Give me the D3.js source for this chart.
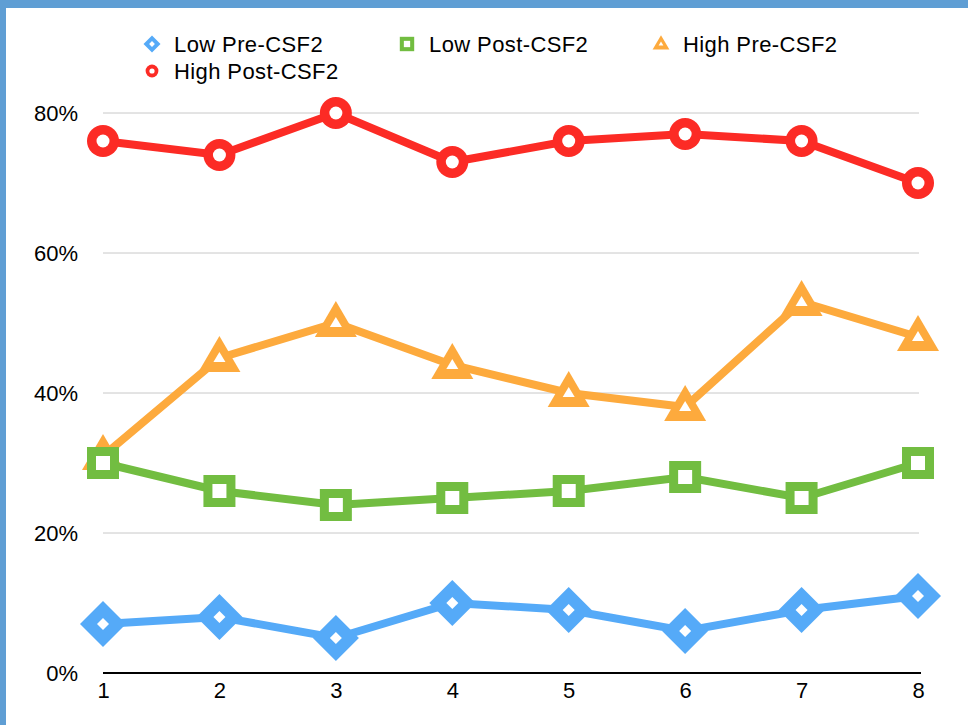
<!DOCTYPE html>
<html><head><meta charset="utf-8">
<script src="https://cdn.jsdelivr.net/npm/d3@7"></script>
<style>
html,body{margin:0;padding:0;background:#fff;}
svg{display:block;font-family:"Liberation Sans",Arial,Helvetica,sans-serif;}
</style></head>
<body>
<script>
const categories = [1,2,3,4,5,6,7,8];
const lowPre   = [7, 8, 5, 10, 9, 6, 9, 11];
const lowPost  = [30, 26, 24, 25, 26, 28, 25, 30];
const highPre  = [31, 45, 50, 44, 40, 38, 53, 48];
const highPost = [76, 74, 80, 73, 76, 77, 76, 70];
const yTicks = [0, 20, 40, 60, 80];
const seriesNames = ["Low Pre-CSF2","Low Post-CSF2","High Pre-CSF2","High Post-CSF2"];

const W = 968, H = 725;
const svg = d3.select("body").append("svg").attr("width", W).attr("height", H);

// frame
svg.append("rect").attr("x",0).attr("y",0).attr("width",W).attr("height",H).attr("fill","#fff");
svg.append("rect").attr("x",0).attr("y",0).attr("width",W).attr("height",8).attr("fill","#5f9ed4");
svg.append("rect").attr("x",0).attr("y",0).attr("width",6).attr("height",H).attr("fill","#5f9ed4");

const x = d3.scalePoint().domain(categories).range([103, 918]);
const y = d3.scaleLinear().domain([0, 80]).range([673, 113]);

// gridlines
svg.append("g").selectAll("line").data(yTicks.filter(d=>d>0)).join("line")
  .attr("x1",103).attr("x2",919).attr("y1",d=>y(d)).attr("y2",d=>y(d))
  .attr("stroke","#c8c8c8").attr("stroke-width",1);

// y axis labels
const yAxis = d3.axisLeft(y).tickValues(yTicks).tickFormat(d=>d+"%").tickSize(0).tickPadding(0);
const gy = svg.append("g").attr("transform","translate(78,0)").call(yAxis);
gy.select(".domain").remove();
gy.selectAll("text").attr("font-size",22).attr("fill","#000").attr("font-family","Liberation Sans, Arial, sans-serif").attr("dy","0.36em");

// x axis
svg.append("line").attr("x1",103).attr("x2",921).attr("y1",673).attr("y2",673).attr("stroke","#000").attr("stroke-width",2);
const xAxis = d3.axisBottom(x).tickSize(0).tickPadding(0);
const gx = svg.append("g").attr("transform","translate(0,682)").call(xAxis);
gx.select(".domain").remove();
gx.selectAll("text").attr("font-size",22).attr("fill","#000").attr("font-family","Liberation Sans, Arial, sans-serif").attr("dy","0.71em");

const colors = ["#55aaf8","#72bd41","#fdaa3d","#fc2b25"];
const data = [lowPre, lowPost, highPre, highPost];

function marker(g, type, cx, cy, color, s) {
  if (type === "diamond") {
    const o = 23*s, i = 6*s*(s<1?1.3:1);
    g.append("path").attr("d",`M${cx},${cy-o}L${cx+o},${cy}L${cx},${cy+o}L${cx-o},${cy}Z`).attr("fill",color);
    g.append("path").attr("d",`M${cx},${cy-i}L${cx+i},${cy}L${cx},${cy+i}L${cx-i},${cy}Z`).attr("fill","#fff");
  } else if (type === "square") {
    const o = 16*s, i = 7*s;
    g.append("rect").attr("x",cx-o).attr("y",cy-o).attr("width",2*o).attr("height",2*o).attr("fill",color);
    g.append("rect").attr("x",cx-i).attr("y",cy-i).attr("width",2*i).attr("height",2*i).attr("fill","#fff");
  } else if (type === "triangle") {
    const w = 21*s, top = 22*s, bot = 14*s;
    const wi = 6*s, ti = 6*s, bi = 4*s;
    g.append("path").attr("d",`M${cx},${cy-top}L${cx+w},${cy+bot}L${cx-w},${cy+bot}Z`).attr("fill",color);
    g.append("path").attr("d",`M${cx},${cy-ti}L${cx+wi},${cy+bi}L${cx-wi},${cy+bi}Z`).attr("fill","#fff");
  } else {
    g.append("circle").attr("cx",cx).attr("cy",cy).attr("r",16*s).attr("fill",color);
    g.append("circle").attr("cx",cx).attr("cy",cy).attr("r",6.5*s).attr("fill","#fff");
  }
}
const types = ["diamond","square","triangle","circle"];

const line = d3.line().x((d,i)=>x(categories[i])).y(d=>y(d));
[3,2,1,0].forEach(k => {
  const g = svg.append("g");
  g.append("path").datum(data[k]).attr("d", line).attr("fill","none")
    .attr("stroke", colors[k]).attr("stroke-width", 8).attr("stroke-linejoin","miter");
  data[k].forEach((v,i) => marker(g, types[k], x(categories[i]), y(v), colors[k], 1));
});

// legend
const legendPos = [[152,44],[407,44],[661,44],[152,71]];
const legendScale = [0.37, 0.45, 0.4, 0.4];
const lg = svg.append("g");
seriesNames.forEach((n,k) => {
  const [lx,ly] = legendPos[k];
  marker(lg, types[k], lx, ly, colors[k], legendScale[k]);
  lg.append("text").attr("x", lx+22).attr("y", ly).attr("dy","0.36em")
    .attr("font-size",22).attr("letter-spacing","0.4px").attr("fill","#000").text(n);
});
</script>
</body></html>
